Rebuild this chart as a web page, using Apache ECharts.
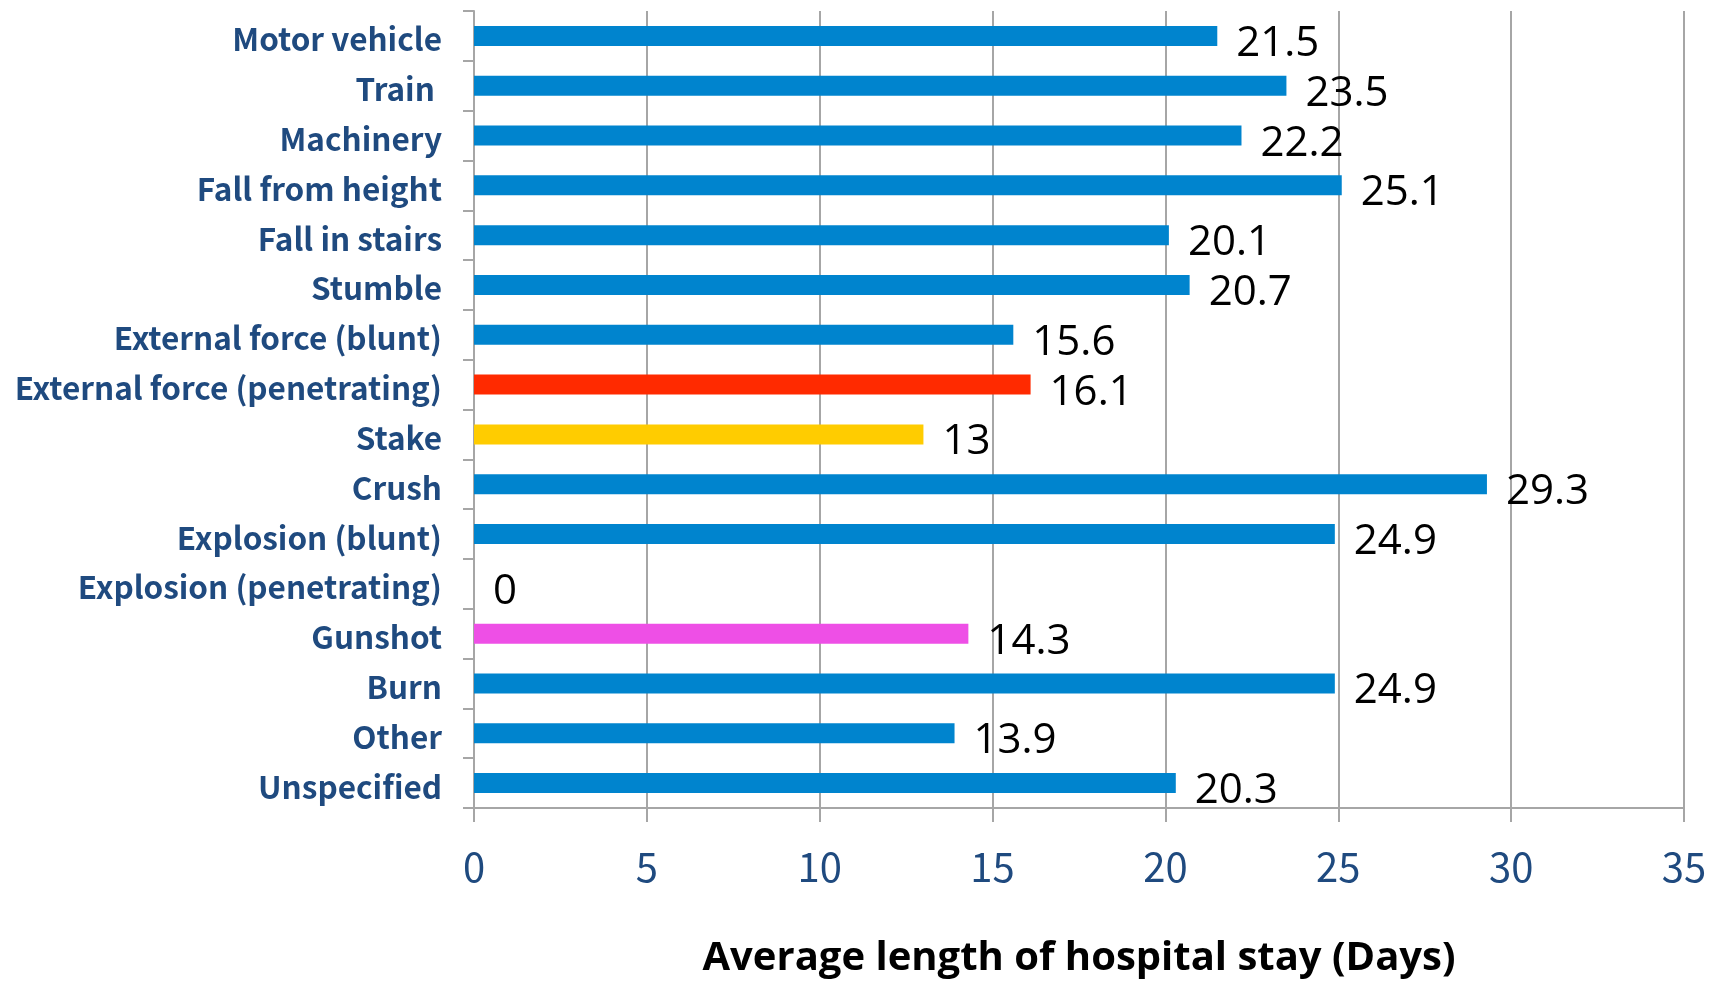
<!DOCTYPE html>
<html>
<head>
<meta charset="utf-8">
<script src="https://cdn.jsdelivr.net/npm/echarts@6/dist/echarts.min.js"></script>
<style>
html,body{margin:0;padding:0;background:#fff;}
#chart{width:1711px;height:984px;}
</style>
</head>
<body>
<div id="chart"></div>
<script>
const categories = ["Motor vehicle","Train ","Machinery","Fall from height","Fall in stairs","Stumble","External force (blunt)","External force (penetrating)","Stake","Crush","Explosion (blunt)","Explosion (penetrating)","Gunshot","Burn","Other","Unspecified"];
const values = [21.5,23.5,22.2,25.1,20.1,20.7,15.6,16.1,13,29.3,24.9,0,14.3,24.9,13.9,20.3];
const barColors = ["#0084CE","#0084CE","#0084CE","#0084CE","#0084CE","#0084CE","#0084CE","#FF2A00","#FFCC00","#0084CE","#0084CE","#0084CE","#EE4FE6","#0084CE","#0084CE","#0084CE"];
const xTicks = {min:0, max:35, interval:5};
const xTitle = "Average length of hospital stay (Days)";

const chart = echarts.init(document.getElementById('chart'), null, {renderer:'canvas'});
chart.setOption({
  animation:false,
  grid:{left:474, right:27, top:11, bottom:172, containLabel:false},
  xAxis:{
    type:'value', min:xTicks.min, max:xTicks.max, interval:xTicks.interval,
    name:xTitle, nameLocation:'middle', nameGap:131,
    nameTextStyle:{fontFamily:'Open Sans', fontWeight:'bold', fontSize:40, color:'#000'},
    axisLine:{show:true, lineStyle:{color:'#A6A6A6', width:2}},
    axisTick:{show:true, length:14, lineStyle:{color:'#A6A6A6', width:2}},
    splitLine:{show:true, lineStyle:{color:'#A6A6A6', width:2}},
    axisLabel:{margin:39, fontFamily:'Noto Sans CJK JP', fontSize:40, color:'#1F4A7F'}
  },
  yAxis:{
    type:'category', data:categories, inverse:true,
    axisLine:{show:true, lineStyle:{color:'#A6A6A6', width:2}},
    axisTick:{show:true, length:11, alignWithLabel:false, lineStyle:{color:'#A6A6A6', width:2}},
    splitLine:{show:false},
    axisLabel:{margin:32, formatter:'{a|{value}}',
      rich:{a:{padding:[7,0,0,0], fontFamily:'Noto Sans CJK JP', fontWeight:'bold', fontSize:31.5, color:'#1F4A7F'}},
      fontFamily:'Noto Sans CJK JP', fontWeight:'bold', fontSize:31.5, color:'#1F4A7F'}
  },
  series:[{
    type:'bar', data:values.map((v,i)=>({value:v, itemStyle:{color:barColors[i]}})),
    barWidth:20,
    label:{show:true, position:'right', distance:19, offset:[0,8], fontFamily:'Open Sans', fontSize:42, color:'#000'}
  }]
});
</script>
</body>
</html>
